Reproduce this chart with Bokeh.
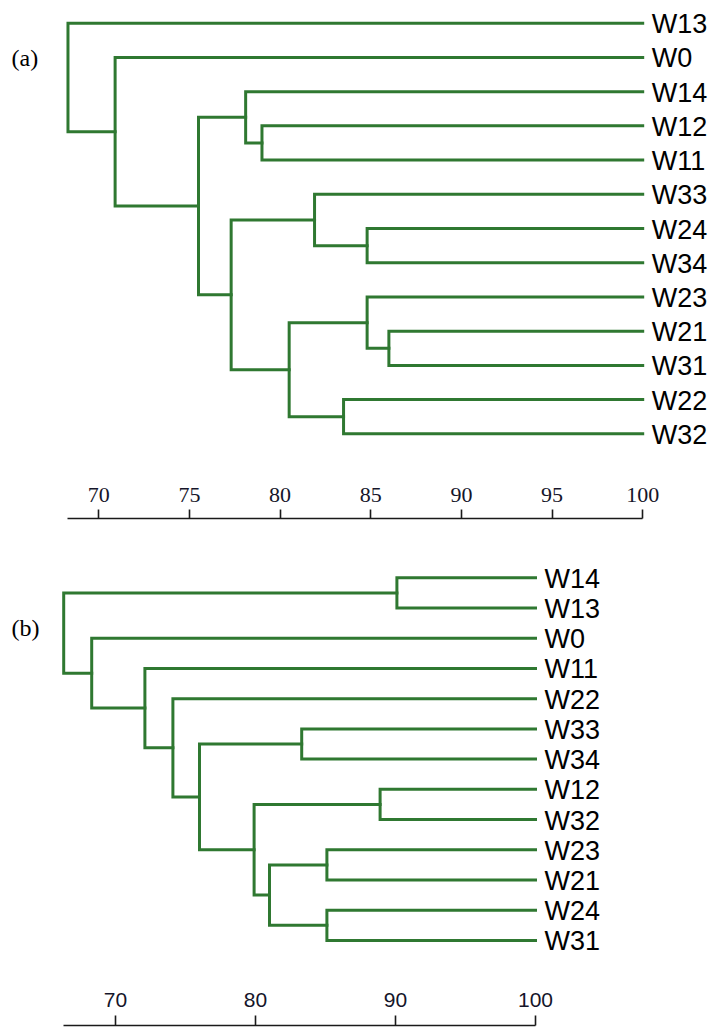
from bokeh.plotting import figure
from bokeh.models import Range1d, LinearAxis, FixedTicker, Label, ColumnDataSource
from bokeh.layouts import column
from bokeh.embed import file_html
from bokeh.resources import INLINE
from bokeh.core.properties import value

# ---- (a) dendrogram: leaf order and agglomeration steps (similarity, %) ----
A_LEAVES = ["W13", "W0", "W14", "W12", "W11", "W33", "W24", "W34",
            "W23", "W21", "W31", "W22", "W32"]
# merge k (1-based) creates node "ck" from A_JOIN_L[k-1] and A_JOIN_R[k-1]
A_JOIN_L = ["W12", "W14", "W24", "W33", "W21", "W23", "W22", "c6", "c4", "c2", "W0", "W13"]
A_JOIN_R = ["W11", "c1", "W34", "c3", "W31", "c5", "W32", "c7", "c8", "c9", "c10", "c11"]
A_SIM = [79.0, 78.1, 84.8, 81.9, 86.0, 84.8, 83.5, 80.5, 77.3, 75.5, 70.9, 68.3]
A_TICKS = [70, 75, 80, 85, 90, 95, 100]

# ---- (b) dendrogram ----
B_LEAVES = ["W14", "W13", "W0", "W11", "W22", "W33", "W34", "W12",
            "W32", "W23", "W21", "W24", "W31"]
B_JOIN_L = ["W14", "W33", "W12", "W23", "W24", "c4", "c3", "c2", "W22", "W11", "W0", "c1"]
B_JOIN_R = ["W13", "W34", "W32", "W21", "W31", "c5", "c6", "c7", "c8", "c9", "c10", "c11"]
B_SIM = [90.1, 83.3, 88.9, 85.1, 85.1, 81.0, 79.9, 76.0, 74.1, 72.1, 68.3, 66.3]
B_TICKS = [70, 80, 90, 100]

LEAF_SIM = 100.0
WIDTH = 711
GREEN = "#2f7831"


def bracket_paths(leaves, join_l, join_r, sim):
    """One elbow polyline per merge: child -> merge level -> other child."""
    pos = {name: (LEAF_SIM, i) for i, name in enumerate(leaves)}
    xs, ys = [], []
    for k, (l, r, h) in enumerate(zip(join_l, join_r, sim), start=1):
        xl, yl = pos[l]
        xr, yr = pos[r]
        xs.append([xl, h, h, xr])
        ys.append([yl, yl, yr, yr])
        pos[f"c{k}"] = (h, (yl + yr) / 2.0)
    return xs, ys


def tree_panel(leaves, join_l, join_r, sim, height, px70, px_unit,
               first_px, step_px, tag, tag_px):
    x0 = 70 - px70 / px_unit
    x1 = 70 + (WIDTH - px70) / px_unit
    y_top = -first_px / step_px
    y_bot = (height - first_px) / step_px
    p = figure(width=WIDTH, height=height,
               x_range=Range1d(x0, x1), y_range=Range1d(y_bot, y_top),
               x_axis_location=None, y_axis_location=None,
               min_border_left=0, min_border_right=0,
               min_border_top=0, min_border_bottom=0,
               output_backend="svg", toolbar_location=None)
    p.grid.visible = False
    p.outline_line_color = None
    p.background_fill_color = "white"
    p.border_fill_color = "white"

    xs, ys = bracket_paths(leaves, join_l, join_r, sim)
    p.multi_line(xs, ys, line_color=GREEN, line_width=3,
                 line_join="miter", line_cap="square")

    src = ColumnDataSource(dict(x=[LEAF_SIM] * len(leaves),
                                y=list(range(len(leaves))),
                                name=leaves))
    p.text(x="x", y="y", text="name", source=src, x_offset=9, y_offset=1,
           text_font=value("Liberation Sans"), text_font_size="27px",
           text_baseline="middle", text_align="left", text_color="black")

    tx, ty = tag_px
    p.add_layout(Label(x=x0 + tx / px_unit, y=(ty - first_px) / step_px,
                       text=tag, text_font="Liberation Serif",
                       text_font_size="24px", text_baseline="middle",
                       text_align="left", text_color="black"))
    return p


def scale_panel(tree, ticks, root, height, line_px, tick_len, font, size, standoff):
    s = figure(width=WIDTH, height=height, x_range=tree.x_range,
               y_range=Range1d(0, 1),
               x_axis_location=None, y_axis_location=None,
               min_border_left=0, min_border_right=0,
               min_border_top=line_px, min_border_bottom=0,
               output_backend="svg", toolbar_location=None)
    s.grid.visible = False
    s.outline_line_color = None
    s.border_fill_color = "white"
    ax = LinearAxis(ticker=FixedTicker(ticks=ticks), bounds=(root, LEAF_SIM),
                    major_tick_in=0, major_tick_out=tick_len,
                    minor_tick_line_color=None,
                    axis_line_width=1.6, axis_line_color="#1a1a1a",
                    major_tick_line_width=1.6, major_tick_line_color="#1a1a1a",
                    major_label_text_font=font,
                    major_label_text_font_size=size,
                    major_label_text_color="#15152a",
                    major_label_standoff=standoff)
    s.add_layout(ax, "above")
    return s


tree_a = tree_panel(A_LEAVES, A_JOIN_L, A_JOIN_R, A_SIM, height=470,
                    px70=98.3, px_unit=18.13, first_px=22.7, step_px=34.22,
                    tag="(a)", tag_px=(11, 57.5))
scale_a = scale_panel(tree_a, A_TICKS, A_SIM[-1], height=60, line_px=48,
                      tick_len=9, font="Liberation Serif", size="22px", standoff=8)

tree_b = tree_panel(B_LEAVES, B_JOIN_L, B_JOIN_R, B_SIM, height=450,
                    px70=115.0, px_unit=14.0, first_px=47.3, step_px=30.22,
                    tag="(b)", tag_px=(11, 97.0))
scale_b = scale_panel(tree_b, B_TICKS, B_SIM[-1], height=47, line_px=45,
                      tick_len=10, font="Liberation Sans", size="21px", standoff=9)

layout = column(tree_a, scale_a, tree_b, scale_b, spacing=0)

with open("out.html", "w") as f:
    f.write(file_html(layout, INLINE))
